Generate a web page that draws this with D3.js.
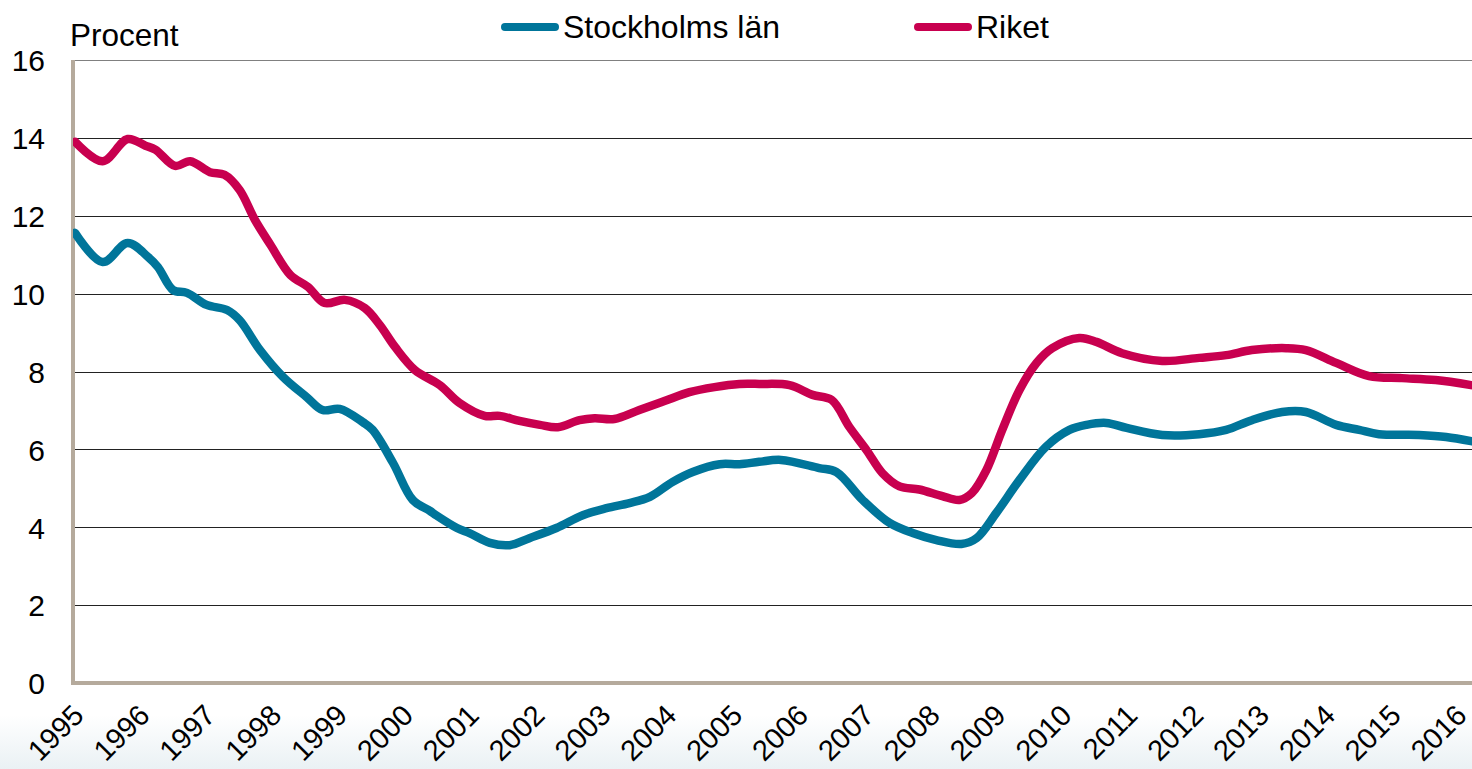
<!DOCTYPE html>
<html>
<head>
<meta charset="utf-8">
<script src="https://cdnjs.cloudflare.com/ajax/libs/d3/7.8.5/d3.min.js"></script>
<style>
  body { margin: 0; background: #fff; }
  svg { display: block; font-family: "Liberation Sans", Arial, sans-serif; }
</style>
</head>
<body>
<svg id="chart" width="1472" height="769"></svg>
<script>
// tick labels
var years = d3.range(1995, 2017);
var yTicks = [0, 2, 4, 6, 8, 10, 12, 14, 16];

// Stockholms län (time as decimal year, value in procent)
var stockholmTid = [1995.03, 1995.45, 1995.83, 1996.14, 1996.29, 1996.52, 1996.73, 1997.03, 1997.34, 1997.53,
  1997.84, 1998.19, 1998.55, 1998.79, 1999.05, 1999.4, 1999.55, 1999.86, 2000.16, 2000.42,
  2000.52, 2000.83, 2001.02, 2001.33, 2001.63, 2001.93, 2002.34, 2002.74, 2003.1, 2003.45,
  2003.76, 2004.1, 2004.41, 2004.82, 2005.12, 2005.42, 2005.75, 2006.33, 2006.59, 2006.99,
  2007.4, 2007.75, 2008.11, 2008.49, 2008.72, 2009.02, 2009.37, 2009.77, 2010.13, 2010.39,
  2010.69, 2011.0, 2011.54, 2012.1, 2012.51, 2012.9, 2013.36, 2013.72, 2014.18, 2014.53,
  2014.83, 2015.44, 2015.85, 2016.23];
var stockholmVarden = [11.56, 10.81, 11.3, 10.94, 10.68, 10.09, 10.02, 9.71, 9.58, 9.32,
  8.55, 7.86, 7.34, 7.01, 7.04, 6.7, 6.5, 5.65, 4.7, 4.42,
  4.3, 3.98, 3.85, 3.6, 3.54, 3.72, 3.98, 4.31, 4.49, 4.62,
  4.78, 5.16, 5.42, 5.62, 5.62, 5.68, 5.73, 5.52, 5.42, 4.7,
  4.11, 3.85, 3.67, 3.57, 3.72, 4.37, 5.21, 6.06, 6.5, 6.63,
  6.68, 6.55, 6.37, 6.39, 6.5, 6.75, 6.96, 6.96, 6.63, 6.5,
  6.39, 6.37, 6.32, 6.21];

// Riket
var riketTid = [1995.03, 1995.45, 1995.83, 1996.1, 1996.25, 1996.55, 1996.78, 1997.08, 1997.3, 1997.53,
  1997.76, 1998.0, 1998.3, 1998.57, 1998.82, 1999.13, 1999.43, 1999.66, 1999.89, 2000.19,
  2000.57, 2000.87, 2001.25, 2001.48, 2001.78, 2002.09, 2002.36, 2002.69, 2002.92, 2003.22,
  2003.6, 2003.98, 2004.36, 2004.74, 2005.12, 2005.42, 2005.88, 2006.23, 2006.52, 2006.79,
  2007.05, 2007.29, 2007.55, 2007.85, 2008.2, 2008.46, 2008.65, 2008.87, 2009.11, 2009.37,
  2009.63, 2009.87, 2010.28, 2010.54, 2010.93, 2011.54, 2012.1, 2012.51, 2012.9, 2013.42,
  2013.72, 2014.18, 2014.68, 2015.18, 2015.69, 2016.23];
var riketVarden = [13.9, 13.4, 13.97, 13.8, 13.7, 13.28, 13.4, 13.12, 13.05, 12.66,
  11.9, 11.25, 10.48, 10.17, 9.76, 9.84, 9.63, 9.19, 8.63, 8.04,
  7.65, 7.19, 6.86, 6.86, 6.73, 6.63, 6.57, 6.75, 6.8, 6.78,
  7.01, 7.24, 7.47, 7.6, 7.68, 7.68, 7.65, 7.4, 7.27, 6.57,
  5.98, 5.39, 5.05, 4.97, 4.8, 4.7, 4.88, 5.47, 6.5, 7.52,
  8.22, 8.6, 8.86, 8.76, 8.47, 8.27, 8.35, 8.42, 8.55, 8.6,
  8.55, 8.22, 7.88, 7.83, 7.78, 7.65];

var seriesNames = ["Stockholms län", "Riket"];
var seriesColors = ["#00759a", "#c8004f"];

var svg = d3.select("#chart");
// note: "top" is taken by window.top, so plot* names
var plotLeft = 73, plotRight = 1472, plotTop = 60, plotBottom = 683;

var x = d3.scaleLinear().domain([1995, 2016]).range([plotLeft, 1456]);
var y = d3.scaleLinear().domain([0, 16]).range([plotBottom, plotTop]);

// faint bottom shade
var defs = svg.append("defs");
var grad = defs.append("linearGradient").attr("id", "shade")
    .attr("x1", 0).attr("y1", 0).attr("x2", 0).attr("y2", 1);
grad.append("stop").attr("offset", "0%").attr("stop-color", "#ffffff");
grad.append("stop").attr("offset", "100%").attr("stop-color", "#eaf1f4");
svg.append("rect").attr("x", 0).attr("y", 715).attr("width", 1472).attr("height", 54)
    .attr("fill", "url(#shade)");

defs.append("clipPath").attr("id", "plotclip")
  .append("rect").attr("x", plotLeft).attr("y", 0)
    .attr("width", plotRight - plotLeft).attr("height", plotBottom);

// gridlines
svg.append("g").selectAll("line")
    .data(yTicks.filter(function(d){ return d > 0; }))
  .enter().append("line")
    .attr("x1", plotLeft).attr("x2", plotRight)
    .attr("y1", function(d){ return Math.round(y(d)) + 0.5; })
    .attr("y2", function(d){ return Math.round(y(d)) + 0.5; })
    .style("stroke", function(d){ return d == 16 ? "#808080" : "#222"; })
    .style("stroke-width", 1);

// y axis labels
var yAxis = d3.axisLeft(y).tickValues(yTicks).tickSize(0).tickPadding(28);
var gy = svg.append("g").attr("transform", "translate(" + plotLeft + ",0)").call(yAxis);
gy.select(".domain").remove();
gy.selectAll("text").attr("font-family", null)
    .style("font-size", "30px").style("fill", "#000")
    .attr("dy", "0.36em");

svg.append("text").attr("x", 70).attr("y", 46)
    .style("font-size", "31.5px").text("Procent");

// x axis labels, rotated
var xAxis = d3.axisBottom(x).tickValues(years).tickSize(0).tickFormat(d3.format("d"));
var gx = svg.append("g").attr("transform", "translate(0," + plotBottom + ")").call(xAxis);
gx.select(".domain").remove();
gx.selectAll("text")
    .attr("font-family", null)
    .style("font-size", "29px").style("fill", "#000")
    .style("text-anchor", "end")
    .attr("y", 0).attr("dy", 0)
    .attr("transform", "translate(12,34) rotate(-45)");

// axis lines
svg.append("line").attr("x1", plotLeft).attr("x2", plotLeft)
    .attr("y1", plotTop).attr("y2", plotBottom + 2)
    .style("stroke", "#b5aa9c").style("stroke-width", 4);
svg.append("line").attr("x1", plotLeft - 2).attr("x2", plotRight)
    .attr("y1", plotBottom).attr("y2", plotBottom)
    .style("stroke", "#b5aa9c").style("stroke-width", 4);

// lines
var line = d3.line()
    .x(function(d){ return x(d[0]); })
    .y(function(d){ return y(d[1]); })
    .curve(d3.curveCatmullRom.alpha(0.5));

var series = [d3.zip(stockholmTid, stockholmVarden), d3.zip(riketTid, riketVarden)];

svg.append("g").attr("clip-path", "url(#plotclip)").selectAll("path")
    .data(series)
  .enter().append("path")
    .attr("d", line)
    .style("fill", "none")
    .style("stroke", function(d, i){ return seriesColors[i]; })
    .style("stroke-width", 8.5)
    .style("stroke-linejoin", "round")
    .style("stroke-linecap", "round");

// legend
var legendX = [505, 918];
var leg = svg.append("g").selectAll("g")
    .data(seriesNames)
  .enter().append("g")
    .attr("transform", function(d, i){ return "translate(" + legendX[i] + ",27)"; });
leg.append("line").attr("x1", 0).attr("x2", 50).attr("y1", 0).attr("y2", 0)
    .style("stroke", function(d, i){ return seriesColors[i]; })
    .style("stroke-width", 8).style("stroke-linecap", "round");
leg.append("text").attr("x", 58).attr("y", 11)
    .style("font-size", "32px").text(function(d){ return d; });
</script>
</body>
</html>
